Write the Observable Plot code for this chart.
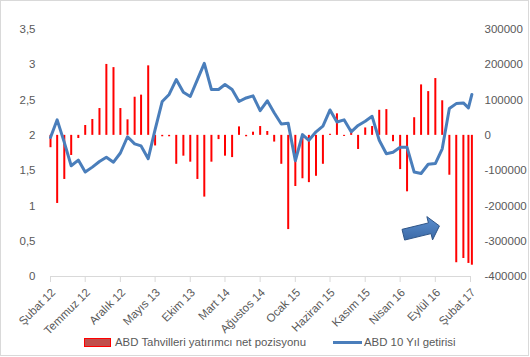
<!DOCTYPE html>
<html>
<head>
<meta charset="utf-8">
<script src="https://cdn.jsdelivr.net/npm/d3@7"></script>
<script src="https://cdn.jsdelivr.net/npm/@observablehq/plot@0.6"></script>
<style>
  html, body { margin: 0; padding: 0; background: #fff; }
  #wrap { position: relative; width: 530px; height: 357px; font-family: "Liberation Sans", Arial, sans-serif; color: #595959; }
  #frame { position: absolute; left: 0; top: 0; width: 527px; height: 354px; border: 1px solid #d9d9d9; pointer-events: none; }
  #legend { position: relative; width: 530px; height: 32px; font-size: 11.4px; }
  #legend .sw1 { position: absolute; left: 84px; top: 13px; width: 27px; height: 9px; box-sizing: border-box; border: 1.5px solid #ff0000; background: #c0504d; }
  #legend .t1 { position: absolute; left: 115px; top: 10px; line-height: 15px; white-space: nowrap; }
  #legend .sw2 { position: absolute; left: 333px; top: 16px; width: 29px; height: 3px; background: #4a7ebb; }
  #legend .t2 { position: absolute; left: 364px; top: 10px; line-height: 15px; white-space: nowrap; }
  svg { display: block; }
</style>
</head>
<body>
<div id="wrap">
  <div id="chart"></div>
  <div id="legend">
    <div class="sw1"></div><div class="t1">ABD Tahvilleri yatırımcı net pozisyonu</div>
    <div class="sw2"></div><div class="t2">ABD 10 Yıl getirisi</div>
  </div>
  <div id="frame"></div>
</div>
<script>
// Periods: monthly Feb 2012 – Jan 2017, then two late observations
const dates = [
  ...d3.utcMonth.range(new Date("2012-02-01"), new Date("2017-02-01")),
  new Date("2017-01-23"), new Date("2017-02-07")
];

// ABD Tahvilleri yatırımcı net pozisyonu (right axis)
const netPosition = [
  -35000, -193000, -125000, -57000, -9000, 28000, 45000, 76000, 201000, 192000,
  76000, 44000, 108000, 114000, 197000, -30000, -4000, -4000, -82000, -59000,
  -76000, -125000, -175000, -76000, -12000, -59000, -63000, 24000, -4000, 9000,
  25000, 11000, -19000, -82000, -267000, -145000, -123000, -134000, -116000, -82000,
  3000, 61000, -3000, 17000, -40000, 21000, 25000, 71000, 73000, -18000,
  -97000, -160000, 50000, 143000, 124000, 161000, 98000, -113000, -361000, -349000,
  -363000, -368000
];

// ABD 10 Yıl getirisi (left axis)
const yield10 = [
  1.97, 2.22, 1.90, 1.57, 1.65, 1.48, 1.55, 1.63, 1.69, 1.62,
  1.75, 1.98, 1.88, 1.85, 1.67, 2.08, 2.48, 2.58, 2.79, 2.61,
  2.55, 2.79, 3.02, 2.65, 2.65, 2.72, 2.65, 2.48, 2.53, 2.56,
  2.35, 2.49, 2.32, 2.16, 2.17, 1.64, 2.01, 1.93, 2.05, 2.13,
  2.36, 2.19, 2.22, 2.05, 2.14, 2.20, 2.27, 1.93, 1.74, 1.76,
  1.83, 1.83, 1.48, 1.46, 1.59, 1.60, 1.81, 2.38, 2.45, 2.46,
  2.39, 2.58
];

// X tick labels (every 5 months from Şubat 12)
const tickDates = d3.utcMonth.range(new Date("2012-02-01"), new Date("2017-02-02"), 5);
const tickLabels = ["Şubat 12", "Temmuz 12", "Aralık 12", "Mayıs 13", "Ekim 13", "Mart 14",
  "Ağustos 14", "Ocak 15", "Haziran 15", "Kasım 15", "Nisan 16", "Eylül 16", "Şubat 17"];

const leftTicks = [0, 0.5, 1, 1.5, 2, 2.5, 3, 3.5];

// Annotation arrow (data coordinates: date, right-axis value)
const arrowTail = [new Date("2016-04-17"), -283000];
const arrowTip = [new Date("2016-09-21"), -258000];

// right axis (-400000..300000) mapped onto left axis (0..3.5)
const toLeft = v => (v + 400000) / 200000;

const rows = dates.map((d, i) => ({date: d, pos: netPosition[i], y: yield10[i]}));
const ticks = tickDates.map((d, i) => ({date: d, label: tickLabels[i]}));

const plot = Plot.plot({
  width: 530,
  height: 325,
  marginLeft: 50,
  marginRight: 60,
  marginTop: 29,
  marginBottom: 49,
  style: {fontFamily: "'Liberation Sans', Arial, sans-serif", fontSize: "11.5px", color: "#595959", background: "white", overflow: "visible"},
  x: {type: "utc", domain: [new Date("2012-02-01"), new Date("2017-02-01")], label: null},
  y: {domain: [0, 3.5], label: null},
  marks: [
    Plot.ruleX(rows, {x: "date", y1: 2, y2: d => toLeft(d.pos), stroke: "#ff0000", strokeWidth: 2}),
    Plot.ruleY([0], {stroke: "#d9d9d9", strokeWidth: 1}),
    Plot.axisX({ticks: tickDates, tickSize: 6, tickFormat: () => "", stroke: "#d9d9d9", label: null}),
    Plot.text(ticks, {x: "date", y: 0, text: "label", rotate: -45, textAnchor: "end", lineAnchor: "middle", dx: 3, dy: 14, fill: "#595959", fontSize: 11.5}),
    Plot.axisY({anchor: "left", ticks: leftTicks, tickSize: 0, tickPadding: 15, tickFormat: d => String(d).replace(".", ","), label: null, fontSize: 11.5}),
    Plot.axisY({anchor: "right", ticks: leftTicks, tickSize: 0, tickPadding: 14, tickFormat: d => String(Math.round(d * 200000 - 400000)), label: null, fontSize: 11.5}),
    Plot.line(rows, {x: "date", y: "y", stroke: "#4a7ebb", strokeWidth: 3, strokeLinejoin: "round", strokeLinecap: "round"})
  ]
});

document.getElementById("chart").appendChild(plot);

// Block arrow drawn via the plot's own scales
(function drawArrow() {
  const sx = plot.scale("x"), sy = plot.scale("y");
  const x0 = sx.apply(arrowTail[0]), y0 = sy.apply(toLeft(arrowTail[1]));
  const x1 = sx.apply(arrowTip[0]), y1 = sy.apply(toLeft(arrowTip[1]));
  const dx = x1 - x0, dy = y1 - y0, L = Math.hypot(dx, dy);
  const ux = dx / L, uy = dy / L, nx = -uy, ny = ux;
  const sw = 5.5, hw = 12, hl = 10;
  const bx = x1 - ux * hl, by = y1 - uy * hl;
  const pts = [
    [x0 + nx * sw, y0 + ny * sw],
    [bx + nx * sw, by + ny * sw],
    [bx + nx * hw, by + ny * hw],
    [x1, y1],
    [bx - nx * hw, by - ny * hw],
    [bx - nx * sw, by - ny * sw],
    [x0 - nx * sw, y0 - ny * sw]
  ];
  const svg = d3.select(plot);
  const defs = svg.append("defs");
  const g = defs.append("linearGradient").attr("id", "arrowGrad").attr("x1", 0).attr("y1", 0).attr("x2", 0).attr("y2", 1);
  g.append("stop").attr("offset", "0%").attr("stop-color", "#5b8fd0");
  g.append("stop").attr("offset", "100%").attr("stop-color", "#3c6aa6");
  svg.append("polygon")
    .attr("points", pts.map(p => p.join(",")).join(" "))
    .attr("fill", "url(#arrowGrad)")
    .attr("stroke", "#2f5587")
    .attr("stroke-width", 1)
    .attr("stroke-linejoin", "miter");
})();
</script>
</body>
</html>
